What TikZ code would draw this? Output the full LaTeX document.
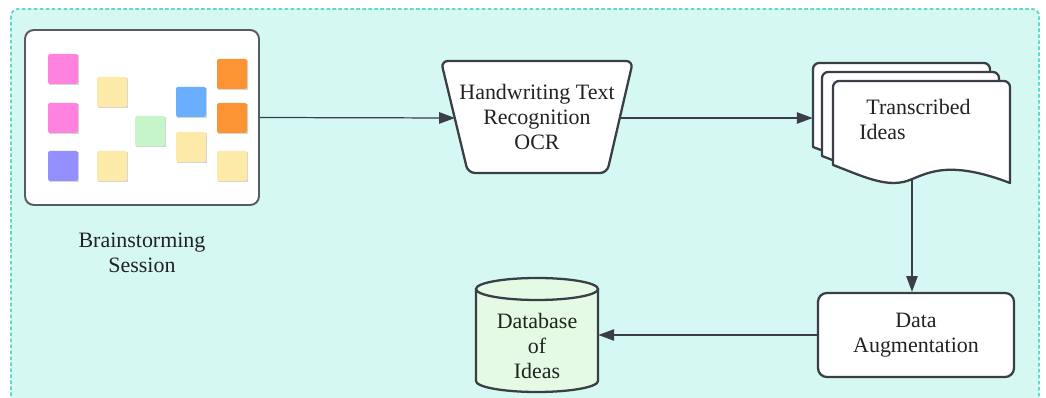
\documentclass[tikz,border=0pt]{standalone}
\usepackage{fontspec}
\setmainfont{Liberation Serif}
\usetikzlibrary{arrows.meta}

\definecolor{panel}{HTML}{D5F8F2}
\definecolor{panelline}{HTML}{5FD9C9}
\definecolor{ink}{HTML}{3A3E46}
\definecolor{txt}{HTML}{222222}
\definecolor{dbfill}{HTML}{E4FAE4}
\definecolor{npink}{HTML}{FF82DE}
\definecolor{nyellow}{HTML}{FDEAA9}
\definecolor{npurple}{HTML}{9490FF}
\definecolor{ngreen}{HTML}{C6F5CA}
\definecolor{nblue}{HTML}{6AAFFF}
\definecolor{norange}{HTML}{FC9433}
\definecolor{nshadow}{HTML}{D6D6D6}

\tikzset{
  lbl/.style={font=\fontsize{12.5pt}{14pt}\selectfont, text=txt, align=center, inner sep=0pt},
  shapeline/.style={draw=ink, line width=1.3pt},
  conn/.style={draw=ink, line width=0.7pt, -{Triangle[length=9pt,width=6.5pt]}},
  page/.style={shapeline, fill=white, line join=round},
}

% one sheet of the stacked document symbol, top-left corner at (#1,#2)
\newcommand{\docsheet}[2]{%
  \filldraw[page, rounded corners=3.5pt]
    (#1,#2+84) -- (#1,#2) -- (#1+177,#2) [sharp corners] -- (#1+177,#2+102)
    .. controls (#1+112,#2+77) and (#1+92,#2+94) .. (#1+74,#2+100)
    .. controls (#1+52,#2+107) and (#1+27,#2+94) .. (#1,#2+84) -- cycle;
}

\begin{document}
\begin{tikzpicture}[x=0.02cm, y=-0.02cm]
\useasboundingbox (0,0) rectangle (1046,398);
\clip (0,0) rectangle (1046,398);

% dashed container
\filldraw[fill=panel, draw=panelline, line width=1.1pt, dash pattern=on 2pt off 1.4pt, rounded corners=4pt]
  (11,9) rectangle (1039,430);

% whiteboard with sticky notes
\node[shapeline, draw=ink!85, line width=1.1pt, fill=white, rounded corners=5pt,
      minimum width=4.68cm, minimum height=3.5cm, inner sep=0pt] (wb) at (142,117.5) {};
\foreach \x/\y/\c in {48/54/npink, 97/77/nyellow, 48/103/npink, 48/151/npurple,
                      97/151/nyellow, 135/116/ngreen, 176/87/nblue, 176/132/nyellow,
                      217/59/norange, 217/103/norange, 217/151/nyellow} {
  \fill[nshadow] (\x+0.5,\y+1.5) rectangle ++(30,30);
  \fill[\c, rounded corners=1.2pt] (\x,\y) rectangle ++(30,30);
}
\node[lbl] (wblabel) at (142,253) {Brainstorming\\Session};

% OCR trapezoid
\filldraw[shapeline, fill=white, rounded corners=4pt]
  (441,61) -- (633,61) -- (607,173) -- (468,173) -- cycle;
\node[lbl] (ocr) at (537,117) {Handwriting Text\\Recognition\\OCR};
\coordinate (ocrin) at (455,118);
\coordinate (ocrout) at (620,118);

% stacked documents
\docsheet{813}{63}
\docsheet{822}{72}
\docsheet{833}{81}
\node[minimum width=3.94cm, minimum height=2.2cm, inner sep=0pt] (docs) at (911.5,118) {};
\node[lbl, align=left, anchor=west] (doctext) at (859,119.5) {\hspace{4pt}Transcribed\\Ideas};
\coordinate (docout) at (912,180.5);

% data augmentation
\node[shapeline, fill=white, rounded corners=5pt, minimum width=3.92cm, minimum height=1.68cm,
      lbl] (aug) at (916,335) {Data\\Augmentation};

% database cylinder
\fill[dbfill] (476,289) -- (476,381) arc[start angle=180, end angle=0, x radius=61, y radius=11]
  -- (598,289) -- cycle;
\fill[dbfill] (537,289) ellipse[x radius=61, y radius=11];
\draw[shapeline] (476,289) -- (476,381) arc[start angle=180, end angle=0, x radius=61, y radius=11]
  -- (598,289);
\draw[shapeline] (537,289) ellipse[x radius=61, y radius=11];
\node[minimum width=2.44cm, minimum height=2.28cm, inner sep=0pt] (db) at (537,335) {};
\node[lbl] (dbtext) at (537,346) {Database\\of\\Ideas};

% connectors
\draw[conn] (wb.east) -- (ocrin);
\draw[conn] (ocrout) -- (ocrout -| docs.west);
\draw[conn] (docout) -- (docout |- aug.north);
\draw[conn] (aug.west) -- (db.east);
\end{tikzpicture}
\end{document}
